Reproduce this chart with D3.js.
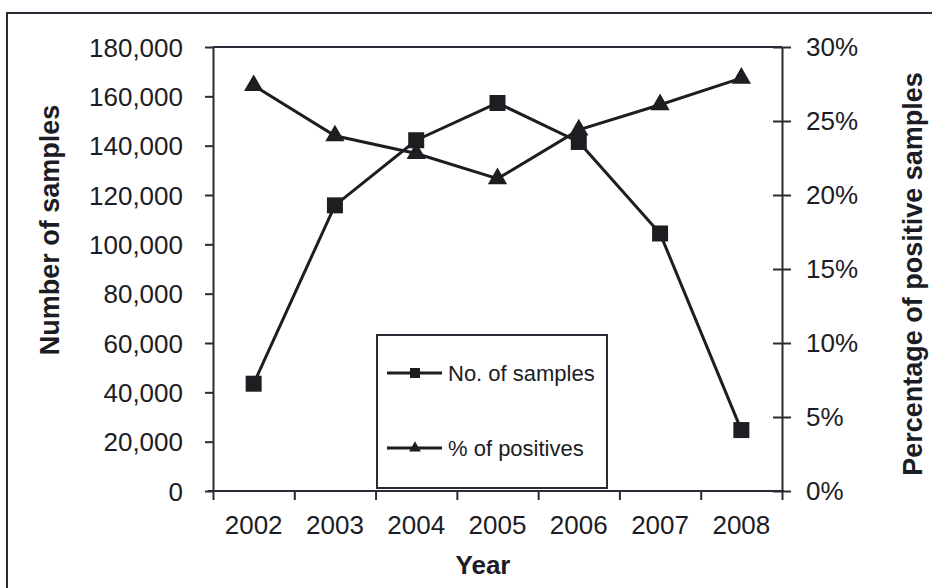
<!DOCTYPE html>
<html>
<head>
<meta charset="utf-8">
<script src="https://cdn.jsdelivr.net/npm/d3@7"></script>
<style>
    body { margin: 0; background: #fff; }
    svg { font-family: "Liberation Sans", Arial, sans-serif; }
    .axis path, .axis line { stroke: #2b2b35; stroke-width: 2px; }
    .axis text { font-size: 26px; fill: #1c1c24; }
</style>
</head>
<body>
<div id="chart"></div>
<script>
// data
let years = ["2002", "2003", "2004", "2005", "2006", "2007", "2008"];
let samples = [43500, 115800, 142200, 157300, 141500, 104400, 24700];
let positives = [0.274, 0.240, 0.228, 0.211, 0.244, 0.261, 0.279];
let leftTicks = [0, 20000, 40000, 60000, 80000, 100000, 120000, 140000, 160000, 180000];
let rightTicks = [0, 0.05, 0.10, 0.15, 0.20, 0.25, 0.30];

let width = 932, height = 588;
let plot = {left: 213, right: 782, top: 47, bottom: 491};
let ink = "#1d1d22";

let svg = d3.select("#chart").append("svg")
    .attr("width", width)
    .attr("height", height);

// outer frame (only top and left edges visible)
svg.append("rect")
    .attr("x", 7).attr("y", 13)
    .attr("width", 960).attr("height", 620)
    .attr("fill", "none")
    .attr("stroke", "#2b2b35")
    .attr("stroke-width", 2);

// scales
let x = d3.scaleBand().domain(years).range([plot.left, plot.right]);
let xEdges = d3.scaleLinear().domain([0, years.length]).range([plot.left, plot.right]);
let yLeft = d3.scaleLinear().domain([0, 180000]).range([plot.bottom, plot.top]);
let yRight = d3.scaleLinear().domain([0, 0.30]).range([plot.bottom, plot.top]);

// plot area top border
svg.append("line")
    .attr("x1", plot.left).attr("x2", plot.right)
    .attr("y1", plot.top).attr("y2", plot.top)
    .attr("stroke", "#2b2b35").attr("stroke-width", 2);

// left axis
let leftAxis = svg.append("g")
    .attr("class", "axis")
    .attr("transform", `translate(${plot.left}, 0)`)
    .call(d3.axisLeft(yLeft).tickValues(leftTicks).tickFormat(d3.format(","))
        .tickSizeInner(8).tickSizeOuter(0).tickPadding(22));
leftAxis.selectAll("text").attr("dy", "0.35em");

// right axis, ticks cross the line
let rightAxis = svg.append("g")
    .attr("class", "axis")
    .attr("transform", `translate(${plot.right}, 0)`)
    .call(d3.axisRight(yRight).tickValues(rightTicks).tickFormat(d3.format(".0%"))
        .tickSizeInner(9).tickSizeOuter(0).tickPadding(15));
rightAxis.selectAll(".tick line").attr("x1", -9);

// bottom axis: ticks at category edges
let bottomAxis = svg.append("g")
    .attr("class", "axis")
    .attr("transform", `translate(0, ${plot.bottom})`)
    .call(d3.axisBottom(xEdges).tickValues(d3.range(0, years.length + 1)).tickFormat("")
        .tickSizeInner(9).tickSizeOuter(0));
bottomAxis.select(".domain").attr("d", `M${plot.left - 5},0H${plot.right + 2}`);

// year labels at band centres
let labelAxis = svg.append("g")
    .attr("class", "axis")
    .attr("transform", `translate(0, ${plot.bottom})`)
    .call(d3.axisBottom(x).tickSize(0).tickPadding(25));
labelAxis.select(".domain").remove();

// axis titles
svg.append("text")
    .attr("transform", `translate(59, 230) rotate(-90)`)
    .attr("text-anchor", "middle")
    .attr("font-size", 27)
    .attr("font-weight", "bold")
    .attr("fill", "#1c1c24")
    .text("Number of samples");

svg.append("text")
    .attr("transform", `translate(922, 274) rotate(-90)`)
    .attr("text-anchor", "middle")
    .attr("font-size", 27)
    .attr("font-weight", "bold")
    .attr("fill", "#1c1c24")
    .text("Percentage of positive samples");

svg.append("text")
    .attr("x", 483).attr("y", 574)
    .attr("text-anchor", "middle")
    .attr("font-size", 26)
    .attr("font-weight", "bold")
    .attr("fill", "#1c1c24")
    .text("Year");

let cx = (d, i) => x(years[i]) + x.bandwidth() / 2;

// No. of samples line
svg.append("path")
    .datum(samples)
    .attr("fill", "none")
    .attr("stroke", ink)
    .attr("stroke-width", 3)
    .attr("d", d3.line().x(cx).y(d => yLeft(d)));

svg.selectAll(".sq")
    .data(samples)
    .join("path")
    .attr("class", "sq")
    .attr("d", d3.symbol(d3.symbolSquare, 256))
    .attr("fill", ink)
    .attr("transform", (d, i) => `translate(${cx(d, i)}, ${yLeft(d)})`);

// % of positives line
svg.append("path")
    .datum(positives)
    .attr("fill", "none")
    .attr("stroke", ink)
    .attr("stroke-width", 3)
    .attr("d", d3.line().x(cx).y(d => yRight(d)));

svg.selectAll(".tri")
    .data(positives)
    .join("path")
    .attr("class", "tri")
    .attr("d", d3.symbol(d3.symbolTriangle, 160))
    .attr("fill", ink)
    .attr("transform", (d, i) => `translate(${cx(d, i)}, ${yRight(d)})`);

// legend
let legend = svg.append("g");
legend.append("rect")
    .attr("x", 377).attr("y", 335)
    .attr("width", 230).attr("height", 153)
    .attr("fill", "#fff")
    .attr("stroke", "#2b2b35")
    .attr("stroke-width", 2);

let legendItems = [
    {label: "No. of samples", symbol: d3.symbolSquare, size: 100, y: 373},
    {label: "% of positives", symbol: d3.symbolTriangle, size: 60, y: 448}
];

legendItems.forEach(item => {
    legend.append("line")
        .attr("x1", 387).attr("x2", 442)
        .attr("y1", item.y).attr("y2", item.y)
        .attr("stroke", ink).attr("stroke-width", 3);
    legend.append("path")
        .attr("d", d3.symbol(item.symbol, item.size))
        .attr("fill", ink)
        .attr("transform", `translate(415, ${item.y})`);
    legend.append("text")
        .attr("x", 448).attr("y", item.y)
        .attr("dy", "0.35em")
        .attr("font-size", 22)
        .attr("fill", "#1c1c24")
        .text(item.label);
});
</script>
</body>
</html>
